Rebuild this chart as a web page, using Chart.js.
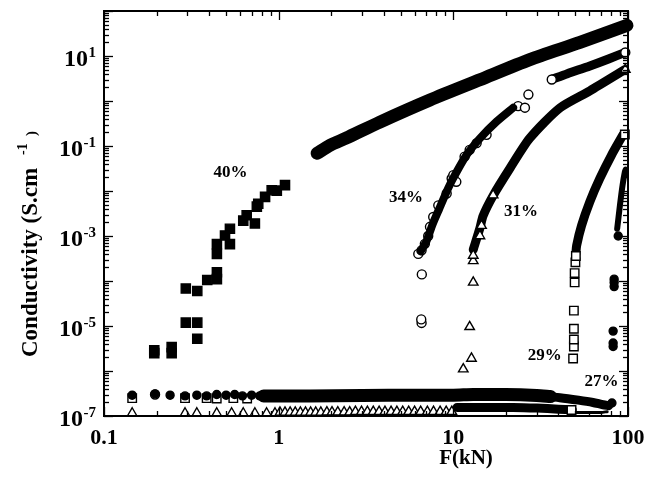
<!DOCTYPE html>
<html><head><meta charset="utf-8">
<script src="https://cdn.jsdelivr.net/npm/chart.js@4.4.1/dist/chart.umd.min.js"></script>
<style>html,body{margin:0;padding:0;background:#fff}#wrap{width:661px;height:477px;position:relative}</style>
</head><body><div id="wrap"><canvas id="c"></canvas></div>
<script>
// ---------- axis / tick data ----------
const xMin = 0.1, xMax = 100, yMin = 1e-7, yMax = 100;
const xTickValues = [0.1, 1, 10, 100];
const xTickLabels = ['0.1', '1', '10', '100'];
const yTickValues = [1e-7, 1e-5, 1e-3, 1e-1, 1e1];
const yTickExponents = ['-7', '-5', '-3', '-1', '1'];
const xTitle = 'F(kN)';
const yTitleMain = 'Conductivity (S.cm';
const yTitleExp = '-1';
const yTitleClose = ')';
const seriesLabels = ['40%', '34%', '31%', '29%', '27%'];
const labelF = [0.53, 5.36, 24.4, 33.4, 70.5];
const labelS = [0.026, 6.97e-3, 3.57e-3, 2.2e-6, 5.9e-7];

// ---------- 40 % (filled squares) ----------
const s40SparseF = [0.194,0.194,0.244,0.244,0.294,0.294,0.342,0.342,0.342,0.39,0.443,0.443,0.443,0.443,0.493,0.526,0.526,0.627,0.656,0.731,0.75,0.764,0.836,0.912,0.976,1.087];
const s40SparseS = [2.5e-6,2.9e-6,2.5e-6,3.4e-6,1.19e-5,6.8e-5,5.2e-6,1.19e-5,6.0e-5,1.05e-4,1.1e-4,1.56e-4,4.0e-4,6.6e-4,1.03e-3,6.6e-4,1.45e-3,2.2e-3,2.9e-3,1.9e-3,4.5e-3,5.2e-3,7.4e-3,1.04e-2,1.02e-2,1.35e-2];
const s40BandF = [1.66,1.97,2.43,3.8,7.35,14.2,27.4,53.1,98.6];
const s40BandS = [0.069,0.104,0.149,0.34,1.05,2.96,8.3,20,47.9];

// ---------- 34 % (open circles) ----------
const s34SparseF = [6.58,6.55,6.6,6.3,6.58,6.87,7.18,7.35,7.67,8.2,9.16,9.78,10.0,10.4,11.6,12.4,13.6,15.5,23.5,25.7,26.9,36.6,96.5];
const s34SparseS = [1.17e-5,1.4e-5,1.4e-4,4.0e-4,4.8e-4,6.7e-4,1.0e-3,1.6e-3,2.65e-3,4.8e-3,8.8e-3,0.019,0.0225,0.016,0.058,0.082,0.116,0.177,0.77,0.71,1.39,3.0,12.0];
const s34BandLowF = [6.5,7.0,7.6,8.3,9.35,10.2,11.9,14.2,17.7,22];
const s34BandLowS = [4.6e-4,7.5e-4,1.8e-3,4.0e-3,0.0116,0.0225,0.063,0.148,0.35,0.71];
const s34BandHighF = [36.6,45,60.5,78,95.7];
const s34BandHighS = [3.01,4.05,6.0,8.7,11.9];

// ---------- 31 % (open triangles) ----------
const s31SparseF = [11.4,12.7,12.4,13.0,13.0,13.0,14.2,14.5,16.9,96.5];
const s31SparseS = [1.1e-6,1.9e-6,9.6e-6,9.3e-5,2.8e-4,3.7e-4,1.0e-3,1.7e-3,8.1e-3,5.0];
const s31BandF = [13.0,14.2,14.8,16.9,21.1,27.4,40.7,60.5,95.9];
const s31BandS = [5.0e-4,1.5e-3,2.8e-3,7.9e-3,0.032,0.149,0.70,1.68,4.96];

// ---------- 29 % (open squares) ----------
const s29SparseF = [48.5,49,49,49,49,49.5,49.5,50,50.3,95.9,47.5];
const s29SparseS = [1.9e-6,3.5e-6,5e-6,8.7e-6,2.2e-5,9.3e-5,1.5e-4,2.6e-4,3.6e-4,0.18,1.36e-7];
const s29BandF = [50.3,50.8,54.2,60.5,69,80.5,93.8];
const s29BandS = [4e-4,6.1e-4,1.7e-3,5.8e-3,0.019,0.063,0.18];

// ---------- 27 % (filled circles) ----------
const s27SparseF = [82.2,82.2,82.2,83.3,83.3,83.3,87.9,80.9];
const s27SparseS = [3.5e-6,4.2e-6,7.7e-6,7.5e-5,9.3e-5,1.1e-4,1.0e-3,1.95e-7];
const s27BandF = [86.7,89.9,93.1,96,97];
const s27BandS = [1.45e-3,4.8e-3,0.0135,0.027,0.03];

// ---------- low-force baseline (all samples) ----------
const baseDotsF = [0.145,0.196,0.239,0.291,0.34,0.387,0.442,0.5,0.56,0.62,0.7,0.78];
const baseDotsS = [2.9e-7,3.1e-7,2.9e-7,2.8e-7,2.9e-7,2.8e-7,3.0e-7,2.9e-7,3.0e-7,2.8e-7,2.9e-7,2.8e-7];
const baseSquaresF = [0.145,0.291,0.387,0.442,0.55,0.66];
const baseSquaresS = [2.5e-7,2.5e-7,2.5e-7,2.45e-7,2.5e-7,2.45e-7];
const baseCirclesF = [0.196];
const baseCirclesS = [3.0e-7];
const baseTriF = [0.145,0.291,0.34,0.442,0.538,0.627,0.731,0.853,0.953,1.017,1.087,1.163,1.244,1.331,1.424,1.523,1.629,1.743,1.888,2.02,2.18,2.37,2.55,2.75,2.98,3.22,3.48,3.76,4.06,4.4,4.75,5.13,5.55,6.0,6.5,7.1,7.7,8.4,9.1,9.8];
const baseTriS = [1.15e-7,1.15e-7,1.15e-7,1.15e-7,1.15e-7,1.15e-7,1.15e-7,1.15e-7,1.15e-7,1.2e-7,1.2e-7,1.2e-7,1.2e-7,1.2e-7,1.2e-7,1.2e-7,1.2e-7,1.2e-7,1.22e-7,1.22e-7,1.22e-7,1.22e-7,1.22e-7,1.25e-7,1.25e-7,1.25e-7,1.25e-7,1.25e-7,1.25e-7,1.25e-7,1.25e-7,1.25e-7,1.25e-7,1.25e-7,1.25e-7,1.25e-7,1.25e-7,1.25e-7,1.25e-7,1.25e-7];
const baseUpperF = [0.82,1.5,3,6,10,13,20,30,36];
const baseUpperS = [2.8e-7,2.8e-7,2.85e-7,2.9e-7,2.9e-7,3.0e-7,3.0e-7,2.85e-7,2.7e-7];
const baseTailF = [30,40.7,52,63,72,77.5];
const baseTailS = [2.85e-7,2.55e-7,2.25e-7,2.0e-7,1.78e-7,1.7e-7];
const baseLowerF = [10.5,15,22,30,40,48];
const baseLowerS = [1.55e-7,1.55e-7,1.55e-7,1.5e-7,1.42e-7,1.38e-7];
const baseThinF = [48,58,70,76];
const baseThinS = [1.2e-7,1.2e-7,1.2e-7,1.25e-7];

// ---------- helpers ----------
const pts = (F, S) => F.map((f, i) => ({x: f, y: S[i]}));
const markers = (F, S, style, radius, filled) => ({
  data: pts(F, S), showLine: false, pointStyle: style, pointRadius: radius,
  backgroundColor: filled ? '#000' : '#fff', borderColor: '#000', borderWidth: 1.4,
  order: 0, clip: false
});
const band = (F, S, w, ord) => ({
  data: pts(F, S), showLine: true, pointRadius: 0, borderColor: '#000', backgroundColor: '#000',
  borderWidth: w, borderCapStyle: 'round', borderJoinStyle: 'round', tension: 0.25,
  fill: false, order: ord === undefined ? 1 : ord, clip: false
});

const serif = '"Liberation Serif", "Times New Roman", serif';

const decor = {
  id: 'decor',
  afterDatasetsDraw(chart) {
    const {ctx, chartArea: a, scales: {x, y}} = chart;
    ctx.save();
    ctx.strokeStyle = '#000';
    ctx.fillStyle = '#000';
    ctx.lineWidth = 2;
    ctx.strokeRect(a.left, a.top, a.right - a.left, a.bottom - a.top);
    ctx.lineWidth = 1.3;
    const seg = (x1, y1, x2, y2) => { ctx.beginPath(); ctx.moveTo(x1, y1); ctx.lineTo(x2, y2); ctx.stroke(); };
    for (let d = -1; d <= 2; d++) for (let m = 1; m <= 9; m++) {
      const v = m * Math.pow(10, d);
      if (v < xMin * 0.999 || v > xMax * 1.001) continue;
      const px = Math.round(x.getPixelForValue(v)) + 0.5;
      const L = m === 1 ? 9 : 5;
      seg(px, a.bottom, px, a.bottom - L);
      seg(px, a.top, px, a.top + L);
    }
    for (let d = -7; d <= 2; d++) for (let m = 1; m <= 9; m++) {
      const v = m * Math.pow(10, d);
      if (v < yMin * 0.999 || v > yMax * 1.001) continue;
      const py = Math.round(y.getPixelForValue(v)) + 0.5;
      const L = m === 1 ? 9 : 5;
      seg(a.left, py, a.left + L, py);
      seg(a.right, py, a.right - L, py);
    }
    ctx.font = 'bold 22px ' + serif;
    ctx.textAlign = 'center';
    ctx.textBaseline = 'middle';
    xTickValues.forEach((v, i) => ctx.fillText(xTickLabels[i], x.getPixelForValue(v), a.bottom + 22));
    yTickValues.forEach((v, i) => {
      const py = y.getPixelForValue(v);
      ctx.font = 'bold 15px ' + serif;
      ctx.textAlign = 'right';
      const ex = yTickExponents[i];
      const ew = ctx.measureText(ex).width;
      ctx.fillText(ex, a.left - 8, py - 3);
      ctx.font = 'bold 24px ' + serif;
      ctx.fillText('10', a.left - 8 - ew - 0.5, py + 3.5);
    });
    ctx.font = 'bold 21px ' + serif;
    ctx.textAlign = 'center';
    ctx.fillText(xTitle, 466, 459);
    ctx.save();
    ctx.translate(37, 357);
    ctx.rotate(-Math.PI / 2);
    ctx.textAlign = 'left';
    ctx.textBaseline = 'alphabetic';
    ctx.font = 'bold 23px ' + serif;
    ctx.fillText(yTitleMain, 0, 0);
    ctx.font = 'bold 14px ' + serif;
    ctx.fillText(yTitleExp, 357 - 155, -10);
    ctx.font = 'bold 15px ' + serif;
    ctx.fillText(yTitleClose, 357 - 136, -1);
    ctx.restore();
    ctx.font = 'bold 17px ' + serif;
    ctx.textAlign = 'center';
    ctx.textBaseline = 'middle';
    seriesLabels.forEach((t, i) => ctx.fillText(t, x.getPixelForValue(labelF[i]), y.getPixelForValue(labelS[i])));
    ctx.restore();
  }
};

new Chart(document.getElementById('c'), {
  type: 'scatter',
  data: {
    datasets: [
      band(s34BandLowF, s34BandLowS, 8, -1),
      markers(s40SparseF, s40SparseS, 'rect', 6.5, true),
      markers(s34SparseF, s34SparseS, 'circle', 4.5, false),
      markers(s31SparseF, s31SparseS, 'triangle', 5.5, false),
      markers(s29SparseF, s29SparseS, 'rect', 6, false),
      markers(s27SparseF, s27SparseS, 'circle', 4, true),
      markers(baseDotsF, baseDotsS, 'circle', 4, true),
      markers(baseSquaresF, baseSquaresS, 'rect', 6, false),
      markers(baseCirclesF, baseCirclesS, 'circle', 4.5, false),
      markers(baseTriF, baseTriS, 'triangle', 5.5, false),
      band(s40BandF, s40BandS, 13),
      band(s34BandHighF, s34BandHighS, 9),
      band(s31BandF, s31BandS, 9),
      band(s29BandF, s29BandS, 9),
      band(s27BandF, s27BandS, 6),
      band(baseUpperF, baseUpperS, 13),
      band(baseTailF, baseTailS, 9),
      band(baseLowerF, baseLowerS, 9),
      band(baseThinF, baseThinS, 3)
    ]
  },
  options: {
    responsive: true,
    maintainAspectRatio: false,
    devicePixelRatio: 1,
    animation: false,
    events: [],
    layout: {padding: {left: 104, right: 33, top: 11, bottom: 61}},
    plugins: {legend: {display: false}, tooltip: {enabled: false}},
    scales: {
      x: {type: 'logarithmic', min: xMin, max: xMax, display: false},
      y: {type: 'logarithmic', min: yMin, max: yMax, display: false}
    }
  },
  plugins: [decor]
});
</script>
</body></html>
